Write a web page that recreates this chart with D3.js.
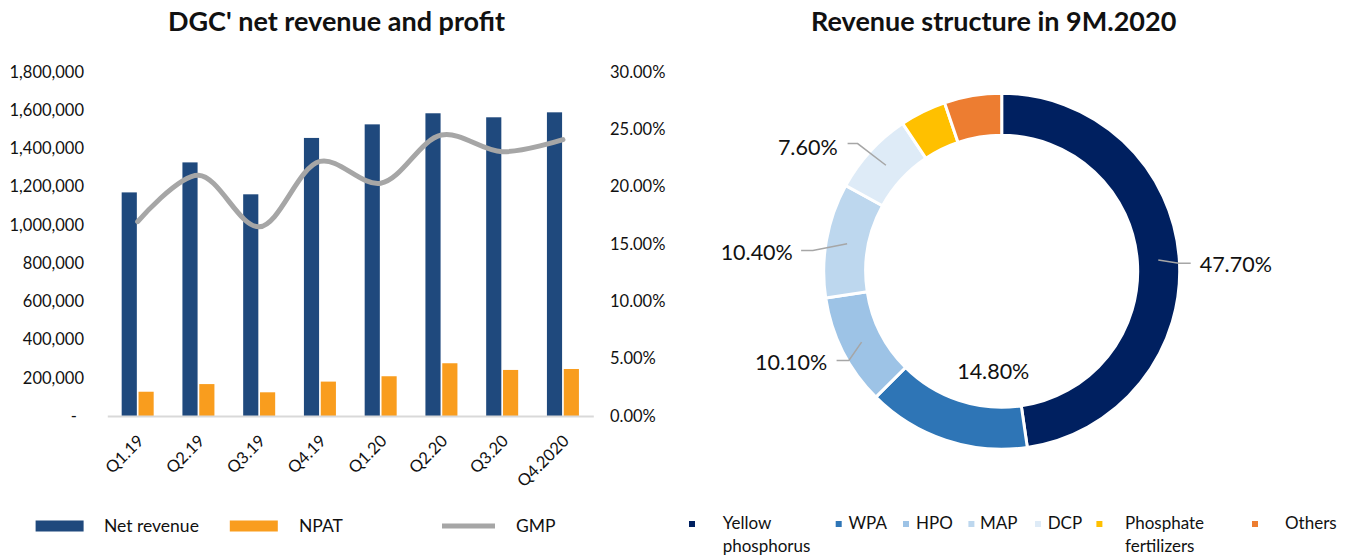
<!DOCTYPE html>
<html>
<head>
<meta charset="utf-8">
<script src="https://cdn.jsdelivr.net/npm/d3@7"></script>
<style>
  body { margin: 0; background: #fff; }
  text { font-family: Lato, "Open Sans", sans-serif; fill: #111; }
</style>
</head>
<body>
<div id="chart"></div>
<script>
// left chart data
const quarters = ["Q1.19", "Q2.19", "Q3.19", "Q4.19", "Q1.20", "Q2.20", "Q3.20", "Q4.2020"];
const netRevenue = [1170000, 1327000, 1160000, 1455000, 1526000, 1584000, 1563000, 1589000];
const npat = [127000, 167000, 124000, 180000, 208000, 276000, 241000, 246000];
const gmp = [0.1695, 0.210, 0.165, 0.222, 0.203, 0.245, 0.2305, 0.241];
const leftTicks = [0, 200000, 400000, 600000, 800000, 1000000, 1200000, 1400000, 1600000, 1800000];
const rightTicks = [0, 0.05, 0.10, 0.15, 0.20, 0.25, 0.30];

// right chart data
const segments = ["Yellow phosphorus", "WPA", "HPO", "MAP", "DCP", "Phosphate fertilizers", "Others"];
const shares = [47.7, 14.8, 10.1, 10.4, 7.6, 4.2, 5.2];
const labelled = [true, true, true, true, true, false, false];

const W = 1349, H = 555;
const navy = "#1f497d", orange = "#f99d1e", grey = "#a6a6a6";
const pieColors = ["#002060", "#2e75b6", "#9dc3e6", "#bdd7ee", "#deebf7", "#ffc000", "#ed7d31"];

const svg = d3.select("#chart").append("svg")
  .attr("width", W)
  .attr("height", H);

// ---------- left: bars + GMP line ----------
const x = d3.scaleBand().domain(quarters).range([107.3, 593.3]);
const y = d3.scaleLinear().domain([0, 1800000]).range([416, 72]);
const yR = d3.scaleLinear().domain([0, 0.30]).range([416, 72]);
const groupW = 32;
const xSub = d3.scaleBand().domain(["rev", "npat"]).range([0, groupW]).paddingInner(0.1);
const cx = q => x(q) + x.bandwidth() / 2;

svg.append("text")
  .attr("x", 336.5).attr("y", 31)
  .attr("text-anchor", "middle")
  .style("font-size", "27px").style("font-weight", "bold")
  .text("DGC' net revenue and profit");

const yAxis = svg.append("g")
  .attr("transform", "translate(87,0)")
  .style("font-size", "16.5px")
  .call(d3.axisLeft(y).tickValues(leftTicks).tickSize(0).tickPadding(3)
    .tickFormat(d => d === 0 ? "-" : d3.format(",")(d)));
yAxis.select(".domain").remove();
yAxis.selectAll("text").filter(d => d === 0).attr("dx", -7);

const yAxisR = svg.append("g")
  .attr("transform", "translate(607,0)")
  .style("font-size", "16.5px")
  .call(d3.axisRight(yR).tickValues(rightTicks).tickSize(0).tickPadding(3)
    .tickFormat(d3.format(".2%")));
yAxisR.select(".domain").remove();

svg.append("g")
  .selectAll("rect")
  .data(quarters)
  .join("rect")
  .attr("x", q => cx(q) - groupW / 2 + xSub("rev"))
  .attr("y", (q, i) => y(netRevenue[i]))
  .attr("width", xSub.bandwidth())
  .attr("height", (q, i) => y(0) - y(netRevenue[i]))
  .attr("fill", navy);

svg.append("g")
  .selectAll("rect")
  .data(quarters)
  .join("rect")
  .attr("x", q => cx(q) - groupW / 2 + xSub("npat"))
  .attr("y", (q, i) => y(npat[i]))
  .attr("width", xSub.bandwidth())
  .attr("height", (q, i) => y(0) - y(npat[i]))
  .attr("fill", orange);

const xAxis = svg.append("g")
  .attr("transform", "translate(0,416)")
  .style("font-size", "16.5px")
  .call(d3.axisBottom(x).tickSize(0).tickSizeOuter(0));
xAxis.select(".domain").attr("stroke", "#d9d9d9").attr("stroke-width", 2);
xAxis.selectAll("text")
  .attr("text-anchor", "end")
  .attr("x", 0).attr("y", 0).attr("dy", "0.35em")
  .attr("transform", "translate(3,22) rotate(-45)");

const line = d3.line()
  .x((d, i) => cx(quarters[i]))
  .y(d => yR(d))
  .curve(d3.curveCatmullRom.alpha(0.5));

svg.append("path")
  .datum(gmp)
  .attr("d", line)
  .attr("fill", "none")
  .attr("stroke", grey)
  .attr("stroke-width", 5)
  .attr("stroke-linecap", "round");

// left legend
const legL = svg.append("g").style("font-size", "17.5px");
legL.append("rect").attr("x", 35.6).attr("y", 520.5).attr("width", 48).attr("height", 11).attr("fill", navy);
legL.append("text").attr("x", 104).attr("y", 526).attr("dy", "0.35em").text("Net revenue");
legL.append("rect").attr("x", 229.8).attr("y", 520.5).attr("width", 48).attr("height", 11).attr("fill", orange);
legL.append("text").attr("x", 299).attr("y", 526).attr("dy", "0.35em").text("NPAT");
legL.append("line").attr("x1", 442).attr("x2", 495).attr("y1", 526).attr("y2", 526)
  .attr("stroke", grey).attr("stroke-width", 5);
legL.append("text").attr("x", 516).attr("y", 526).attr("dy", "0.35em").text("GMP");

// ---------- right: donut ----------
const center = [1001.7, 271.3];
const rOuter = 178, rInner = 136;

svg.append("text")
  .attr("x", 993.7).attr("y", 31)
  .attr("text-anchor", "middle")
  .style("font-size", "27px").style("font-weight", "bold")
  .text("Revenue structure in 9M.2020");

const pie = d3.pie().sort(null).value(d => d);
const arcs = pie(shares);
const arc = d3.arc().innerRadius(rInner).outerRadius(rOuter);

const donut = svg.append("g").attr("transform", `translate(${center})`);
donut.selectAll("path")
  .data(arcs)
  .join("path")
  .attr("d", arc)
  .attr("fill", (d, i) => pieColors[i])
  .attr("stroke", "#fff")
  .attr("stroke-width", 3);

// label layout: offsets from the slice's ring centroid (elbow, line end, text)
const labelLayout = [
  { elbow: [20.7, 3.3], end: [32.4, 3.3], text: [41.4, 4.3], anchor: "start" },
  { elbow: null, end: null, text: [41, -48.6], anchor: "middle" },
  { elbow: [-12.7, 18.4], end: [-25, 18.4], text: [-34.3, 20], anchor: "end" },
  { elbow: [-34.3, 6.7], end: [-46, 6.7], text: [-54.3, 8.4], anchor: "end" },
  { elbow: [-28.3, -21.7], end: [-38.3, -21.7], text: [-48.3, -18.3], anchor: "end" }
];

arcs.forEach((a, i) => {
  if (!labelled[i]) return;
  const c = arc.centroid(a);
  const L = labelLayout[i];
  if (L.elbow) {
    donut.append("polyline")
      .attr("points", [c, [c[0] + L.elbow[0], c[1] + L.elbow[1]], [c[0] + L.end[0], c[1] + L.end[1]]].map(p => p.join(",")).join(" "))
      .attr("fill", "none")
      .attr("stroke", grey)
      .attr("stroke-width", 1.5);
  }
  donut.append("text")
    .attr("x", c[0] + L.text[0])
    .attr("y", c[1] + L.text[1])
    .attr("dy", "0.35em")
    .attr("text-anchor", L.anchor)
    .style("font-size", "21.5px")
    .text(d3.format(".2f")(shares[i]) + "%");
});

// right legend
const legendPos = [
  { m: 692, t: 722.7 }, { m: 838.7, t: 848.5 }, { m: 906, t: 916 }, { m: 971.4, t: 980 },
  { m: 1038, t: 1047.7 }, { m: 1099.4, t: 1125 }, { m: 1255, t: 1285 }
];
const legR = svg.append("g").style("font-size", "17px");
segments.forEach((s, i) => {
  const p = legendPos[i];
  legR.append("rect").attr("x", p.m - 3).attr("y", 521).attr("width", 6).attr("height", 6).attr("fill", pieColors[i]);
  const words = s.split(" ");
  words.forEach((w, j) => {
    legR.append("text").attr("x", p.t).attr("y", 523 + j * 23.5).attr("dy", "0.35em").text(w);
  });
});
</script>
</body>
</html>
